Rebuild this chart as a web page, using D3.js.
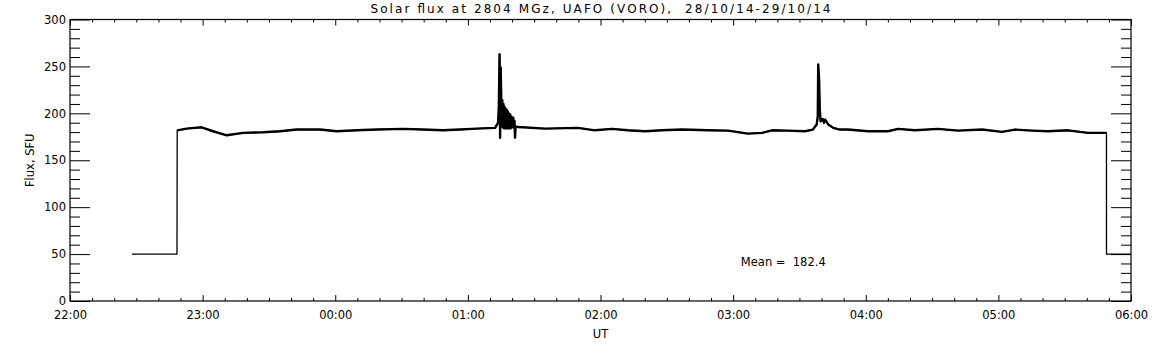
<!DOCTYPE html>
<html>
<head>
<meta charset="utf-8">
<script src="https://cdn.jsdelivr.net/npm/d3@7"></script>
<style>
  body { margin: 0; background: #fff; }
  text { font-family: "DejaVu Sans", sans-serif; fill: #000; white-space: pre; }
</style>
</head>
<body>
<svg id="svg" width="1152" height="345"></svg>
<script>
// series: UT time, flux in SFU
var fluxTimes = [
  '22:28:00', '22:48:24', '22:48:30', '22:52:48', '22:59:36', '23:04:42', '23:10:54',
  '23:18:18', '23:27:18', '23:35:00', '23:42:36', '23:53:06', '00:00:42', '00:09:42',
  '00:18:48', '00:30:42', '00:39:42', '00:48:42', '00:56:24', '01:04:00', '01:12:20',
  '01:13:40', '01:14:00', '01:14:20', '01:14:35', '01:14:50', '01:15:05', '01:15:20',
  '01:15:35', '01:15:50', '01:16:05', '01:16:20', '01:16:35', '01:16:50', '01:17:05',
  '01:17:20', '01:17:35', '01:17:50', '01:18:05', '01:18:20', '01:18:35', '01:18:50',
  '01:19:05', '01:19:20', '01:19:35', '01:19:50', '01:20:05', '01:20:20', '01:20:35',
  '01:20:50', '01:21:05', '01:21:20', '01:21:35', '01:22:40', '01:34:54', '01:49:48',
  '01:57:30', '02:05:12', '02:12:24', '02:20:06', '02:27:48', '02:36:54', '02:48:36',
  '02:57:42', '03:06:42', '03:13:06', '03:17:36', '03:24:48', '03:32:30', '03:36:06',
  '03:37:48', '03:38:18', '03:38:30', '03:38:54', '03:39:12', '03:39:36', '03:40:30',
  '03:41:06', '03:41:36', '03:43:06', '03:45:18', '03:48:18', '03:51:54', '04:01:00',
  '04:10:06', '04:14:36', '04:22:18', '04:32:42', '04:41:42', '04:52:36', '05:01:36',
  '05:07:30', '05:15:12', '05:22:30', '05:31:30', '05:40:30', '05:48:12', '05:48:54',
  '05:48:55', '06:00:00'
];
var fluxValues = [
  50, 50, 181.9, 183.7, 185.1, 180.9, 176.6,
  179.2, 179.8, 180.9, 182.7, 182.7, 180.9, 181.9,
  182.7, 183.4, 182.7, 181.9, 182.7, 183.7, 184.5,
  190, 207, 263, 174, 249, 218, 186,
  214, 185, 210, 184, 207, 184, 205,
  184, 204, 184, 202, 184, 200, 184,
  199, 184, 197, 185, 196, 185, 195,
  185, 192, 174, 186, 185.5, 183.7, 184.5,
  181.9, 183.4, 181.9, 180.9, 181.9, 182.7, 181.9,
  181.6, 178.4, 179.2, 181.9, 181.6, 180.9, 182.7,
  188, 196.8, 252, 235.8, 203.9, 191.5, 194,
  190, 193.3, 188, 184.5, 182.7, 182.7, 180.9,
  180.9, 183.4, 181.9, 183.4, 181.6, 182.7, 180.2,
  182.7, 181.6, 180.9, 181.9, 179.2, 179.2, 179.2,
  50, 50
];
var yTicks = [0, 50, 100, 150, 200, 250, 300];
var xStart = '22:00:00', xEnd = '06:00:00';
var titleText = 'Solar flux at 2804 MGz, UAFO (VORO),  28/10/14-29/10/14';
var meanValue = 182.4;
var meanAt = ['03:03:30', 37];

var parseT = d3.timeParse('%H:%M:%S');
function toDate(s) {
  var d = parseT(s);
  return d.getHours() < 12 ? d3.timeDay.offset(d, 1) : d;
}

var data = fluxTimes.map((t, i) => ({ t: toDate(t), v: fluxValues[i] }));

var pL = 70, pR = 1131, pT = 19.5, pB = 301;
var svg = d3.select('#svg');

var scX = d3.scaleTime().domain([toDate(xStart), toDate(xEnd)]).range([pL, pR]);
var scY = d3.scaleLinear().domain([0, 300]).range([pB, pT]);

var hours = d3.timeHour.range(toDate(xStart), d3.timeMinute.offset(toDate(xEnd), 1));
var tenMin = d3.timeMinute.every(10).range(toDate(xStart), toDate(xEnd))
  .filter(d => d.getMinutes() != 0);
var yMinor = d3.range(0, 301, 10).filter(v => v % 50 != 0);

function clean(g) { g.select('.domain').remove(); }

// bottom axis
svg.append('g').attr('transform', 'translate(0,' + pB + ')')
  .call(d3.axisBottom(scX).tickValues(hours).tickFormat(d3.timeFormat('%H:%M'))
    .tickSize(-6).tickPadding(10))
  .call(clean)
  .selectAll('text').style('font-size', '11.5px');
svg.append('g').attr('transform', 'translate(0,' + pB + ')')
  .call(d3.axisBottom(scX).tickValues(tenMin).tickFormat('').tickSize(-3)).call(clean);
// top axis
svg.append('g').attr('transform', 'translate(0,' + pT + ')')
  .call(d3.axisTop(scX).tickValues(hours).tickFormat('').tickSize(-6)).call(clean);
svg.append('g').attr('transform', 'translate(0,' + pT + ')')
  .call(d3.axisTop(scX).tickValues(tenMin).tickFormat('').tickSize(-3)).call(clean);
// left axis
svg.append('g').attr('transform', 'translate(' + pL + ',0)')
  .call(d3.axisLeft(scY).tickValues(yTicks).tickSize(-20).tickPadding(4))
  .call(clean)
  .selectAll('text').style('font-size', '11.5px');
svg.append('g').attr('transform', 'translate(' + pL + ',0)')
  .call(d3.axisLeft(scY).tickValues(yMinor).tickFormat('').tickSize(-10)).call(clean);
// right axis
svg.append('g').attr('transform', 'translate(' + pR + ',0)')
  .call(d3.axisRight(scY).tickValues(yTicks).tickFormat('').tickSize(-20)).call(clean);
svg.append('g').attr('transform', 'translate(' + pR + ',0)')
  .call(d3.axisRight(scY).tickValues(yMinor).tickFormat('').tickSize(-10)).call(clean);

svg.selectAll('.tick line').attr('stroke', '#000');

// frame
svg.append('rect')
  .attr('x', pL).attr('y', pT)
  .attr('width', pR - pL).attr('height', pB - pT)
  .attr('fill', 'none').attr('stroke', '#000').attr('stroke-width', 1.2);

var line = d3.line().x(d => scX(d.t)).y(d => scY(d.v));

// thin outline of the full record (step in / step out)
svg.append('path').datum(data)
  .attr('d', line).attr('fill', 'none').attr('stroke', '#000').attr('stroke-width', 1.3);
// the noisy part of the record is drawn heavier
svg.append('path').datum(data.slice(2, data.length - 2))
  .attr('d', line).attr('fill', 'none').attr('stroke', '#000')
  .attr('stroke-width', 2.4).attr('stroke-linejoin', 'round');

// texts
svg.append('text')
  .attr('x', (pL + pR) / 2).attr('y', 13)
  .attr('text-anchor', 'middle')
  .attr('textLength', 460).attr('lengthAdjust', 'spacing')
  .style('font-size', '12px')
  .text(titleText);

svg.append('text')
  .attr('transform', 'translate(34,' + (pT + pB) / 2 + ') rotate(-90)')
  .attr('text-anchor', 'middle')
  .style('font-size', '11.5px')
  .text('Flux, SFU');

svg.append('text')
  .attr('x', (pL + pR) / 2).attr('y', 338)
  .attr('text-anchor', 'middle')
  .style('font-size', '11.5px')
  .text('UT');

svg.append('text')
  .attr('x', scX(toDate(meanAt[0]))).attr('y', scY(meanAt[1]))
  .style('font-size', '11.5px')
  .text('Mean =  ' + meanValue.toFixed(1));
</script>
</body>
</html>
